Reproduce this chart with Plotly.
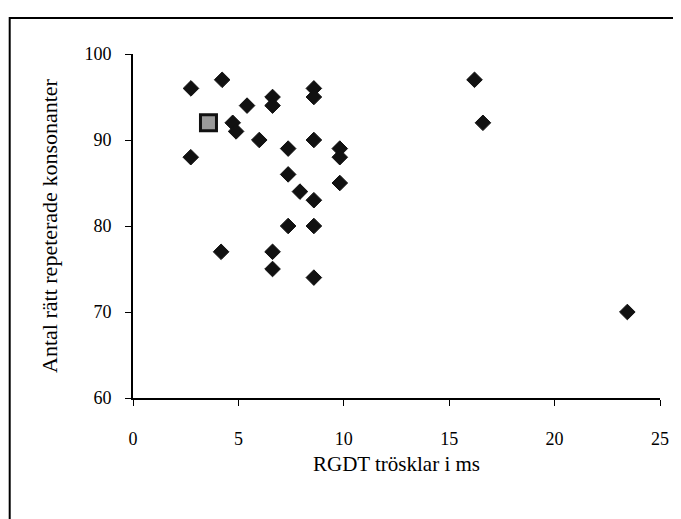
import plotly.graph_objects as go

# RGDT thresholds (ms) and number of correctly repeated consonants
rgdt_ms = [2.75, 4.23, 2.74, 4.73, 4.89, 5.41, 6.62, 6.62, 5.99, 7.36, 7.36, 7.92,
           8.58, 8.58, 8.58, 8.58, 9.81, 9.81, 9.81, 7.36, 8.58, 4.18, 6.62, 6.62,
           8.58, 16.2, 16.6, 23.45]
konsonanter = [96, 97, 88, 92, 91, 94, 95, 94, 90, 89, 86, 84,
               83, 90, 96, 95, 89, 88, 85, 80, 80, 77, 77, 75,
               74, 97, 92, 70]

# Highlighted (square) point
special_x = [3.58]
special_y = [92]

x_ticks = [0, 5, 10, 15, 20, 25]
y_ticks = [60, 70, 80, 90, 100]

# page body has an 8px margin, so the figure is drawn 8px smaller / shifted
OFF = 8
W, H = 681 - OFF, 519 - OFF
L, R, T, B = 133 - OFF, 18, 54 - OFF, 121

fig = go.Figure()
fig.add_trace(go.Scatter(
    x=rgdt_ms, y=konsonanter, mode="markers",
    marker=dict(symbol="diamond", size=12, color="#111111",
                line=dict(color="#111111", width=1)),
    showlegend=False, cliponaxis=False))
fig.add_trace(go.Scatter(
    x=special_x, y=special_y, mode="markers",
    marker=dict(symbol="square", size=16, color="#9a9a9a",
                line=dict(color="#111111", width=3)),
    showlegend=False, cliponaxis=False))

font = "Liberation Serif, Times New Roman, serif"
pw = W - L - R
ph = H - T - B

fig.update_layout(
    width=W, height=H,
    margin=dict(l=L, r=R, t=T, b=B, pad=0),
    paper_bgcolor="white", plot_bgcolor="white",
    font=dict(family=font, color="black", size=18),
    xaxis=dict(range=[0, 25], tickvals=x_ticks, ticktext=[str(v) for v in x_ticks],
               showgrid=False, zeroline=False, showline=True, linecolor="black",
               linewidth=1.5, ticks="outside", ticklen=6, tickwidth=1.2,
               tickcolor="black", ticklabelstandoff=18,
               tickfont=dict(family=font, size=18),
               title=dict(text="RGDT trösklar i ms", font=dict(family=font, size=21),
                          standoff=8)),
    yaxis=dict(range=[60, 100], tickvals=y_ticks, ticktext=[str(v) for v in y_ticks],
               showgrid=False, zeroline=False, showline=True, linecolor="black",
               linewidth=2, ticks="outside", ticklen=6, tickwidth=1.2,
               tickcolor="black", ticklabelstandoff=10,
               tickfont=dict(family=font, size=18),
               title=dict(text="Antal rätt repeterade konsonanter",
                          font=dict(family=font, size=22), standoff=21)),
    shapes=[dict(type="rect", xref="paper", yref="paper",
                 x0=(1 - L) / pw, x1=(W + 10 - L) / pw,
                 y0=(H - B - (H + 10)) / ph, y1=(H - B - 10) / ph,
                 line=dict(color="black", width=2), fillcolor="rgba(0,0,0,0)",
                 layer="below")],
)

fig.write_html("out.html")
